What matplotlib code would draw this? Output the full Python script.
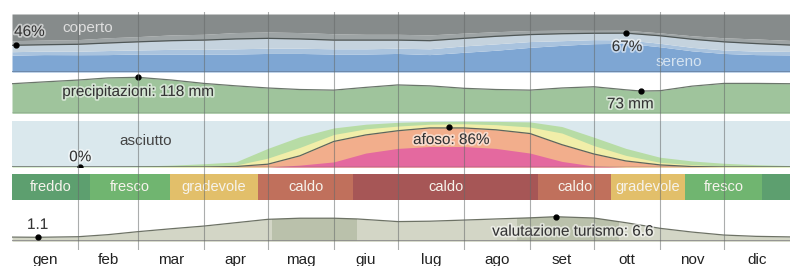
import matplotlib
matplotlib.use("Agg")
import matplotlib.pyplot as plt
import matplotlib.patheffects as pe

plt.rcParams['font.family'] = ['Liberation Sans', 'DejaVu Sans']

# mesi e confini (giorno dell'anno)
mesi = ['gen', 'feb', 'mar', 'apr', 'mag', 'giu', 'lug', 'ago', 'set', 'ott', 'nov', 'dic']
confini_mesi = [0, 31, 59, 90, 120, 151, 181, 212, 243, 273, 304, 334, 365]

giorni = [0, 15, 31, 45, 59, 75, 90, 105, 120, 135, 151, 166, 181, 196, 212, 227,
          243, 258, 273, 288, 304, 319, 334, 349, 365]

# nuvolosita' (%): linea = cielo sereno + prev. sereno + parz. nuvoloso
sereno_linea = [46, 47, 47.8, 50, 52, 54, 55, 57, 58, 57, 55, 55, 55, 54, 58, 61.5,
                64.5, 66, 66.8, 67, 62.5, 56.5, 52, 49, 46.5]
prev_nuvoloso = [8, 8, 8, 9, 9, 10, 10, 11, 11, 11, 11, 10, 10, 10, 9, 8,
                 7, 6, 5, 5, 5, 6, 7, 8, 8]
parz_nuvoloso = [11, 11, 12, 13, 14, 15, 16, 17, 17, 16, 15, 15, 14, 14, 13, 13,
                 12, 12, 11, 11.5, 13, 14, 14, 13, 11]
prev_sereno = [6, 6, 6, 7, 7, 8, 8, 9, 9, 9, 9, 9, 9, 10, 11, 11,
               10, 8, 7, 6, 6, 6, 6, 6, 6]

# precipitazioni (mm)
giorni_pioggia = [0, 15, 31, 45, 59, 75, 90, 105, 120, 135, 151, 166, 181, 196, 212, 227,
                  243, 258, 273, 288, 295, 304, 319, 334, 349, 365]
pioggia = [97, 103, 109, 116, 118, 109, 98, 90, 83, 78, 76, 85, 93, 90, 82, 78,
           76, 83, 87, 77, 73, 74, 89, 98, 98, 97]

# umidita' (%)
afoso = [0, 0, 0, 0, 0, 0, 0, 1, 6, 24, 55, 69, 78, 84, 84, 80,
         72, 48, 28, 13, 4.5, 1, 0, 0, 0]
oppressivo = [0, 0, 0, 0, 0, 0, 0, 0, 0, 4, 11, 30, 40, 44, 44, 40,
              30, 12, 2, 0, 0, 0, 0, 0, 0]
umido = [0, 0, 0, 0, 0, 1, 2, 3, 13, 18, 15, 13, 10, 8, 9, 11,
         14, 25, 18, 12, 5.5, 4, 2, 1, 0.5]
confortevole = [2, 1, 1, 1, 2, 3, 5, 7, 21, 23, 14, 10, 8, 6, 5.5, 7,
                11, 14, 18, 15, 11, 8, 6, 4, 2.5]

# fasce di temperatura
temp_inizio = [0, 36.6, 74, 115.4, 160, 246.8, 281, 315.7, 351.9]
temp_fine = [36.6, 74, 115.4, 160, 246.8, 281, 315.7, 351.9, 365]
temp_nomi = ['freddo', 'fresco', 'gradevole', 'caldo', 'caldo', 'caldo', 'gradevole', 'fresco', '']
temp_colori = ['#5d9f6f', '#70b570', '#e2bf6a', '#c0705c', '#a65656', '#c0705c',
               '#e2bf6a', '#70b570', '#5d9f6f']

# valutazione turismo (0-10)
giorni_turismo = [0, 12, 31, 45, 59, 75, 90, 105, 120, 135, 151, 162, 181, 196, 212, 227,
                  243, 255, 273, 288, 304, 319, 334, 349, 365]
turismo = [1.15, 1.1, 1.25, 1.8, 2.6, 3.4, 4.1, 5.0, 5.9, 6.2, 6.2, 6.0, 5.3, 5.4, 5.7, 6.0,
           6.3, 6.6, 6.25, 5.0, 3.5, 2.5, 1.7, 1.35, 1.2]
periodi_migliori = [(122, 162), (237, 285)]

W, H = 790, 266
fig = plt.figure(figsize=(W / 100, H / 100), dpi=100)
alone = [pe.withStroke(linewidth=2.5, foreground='white', alpha=0.55)]
FS = 11


def pannello(top, bottom, ymax):
    ax = fig.add_axes([12 / W, 1 - bottom / H, 778 / W, (bottom - top) / H])
    ax.set_xlim(0, 365)
    ax.set_ylim(0, ymax)
    for s in ax.spines.values():
        s.set_visible(False)
    ax.set_xticks([])
    ax.set_yticks([])
    ax.patch.set_alpha(0)
    return ax


# --- nuvolosita'
ax = pannello(14, 72, 100)
linea_parz = [s - p for s, p in zip(sereno_linea, parz_nuvoloso)]
linea_prev = [l - p for l, p in zip(linea_parz, prev_sereno)]
linea_nuv = [s + p for s, p in zip(sereno_linea, prev_nuvoloso)]
ax.fill_between(giorni, 0, linea_prev, color='#7ea6d3', lw=0)
ax.fill_between(giorni, linea_prev, linea_parz, color='#a9c3de', lw=0)
ax.fill_between(giorni, linea_parz, sereno_linea, color='#c5d3de', lw=0)
ax.fill_between(giorni, sereno_linea, linea_nuv, color='#9ea4a5', lw=0)
ax.fill_between(giorni, linea_nuv, 100, color='#868b8b', lw=0)
ax.plot(giorni, sereno_linea, color='#4f5757', lw=0.9)
ax.axhline(0.8, color='#6a84a3', lw=1.2)
ax.plot([2], [46], 'o', color='black', ms=3.5)
ax.plot([288], [67], 'o', color='black', ms=3.5)
ax.text(1, 69, '46%', fontsize=FS, color='#333333', va='center', ha='left', path_effects=alone)
ax.text(23.5, 75, 'coperto', fontsize=FS, color='#dedede', va='center', ha='left')
ax.text(288.5, 43, '67%', fontsize=FS, color='#333333', va='center', ha='center', path_effects=alone)
ax.text(301.7, 18, 'sereno', fontsize=FS, color='#d5e3f0', va='center', ha='left')

# --- precipitazioni
ax = pannello(73.5, 113.3, 130.5)
ax.fill_between(giorni_pioggia, 0, pioggia, color='#9fc49c', lw=0)
ax.plot(giorni_pioggia, pioggia, color='#6b766b', lw=0.9)
ax.axhline(0.5, color='#6b766b', lw=1)
ax.plot([59], [118], 'o', color='black', ms=3.5)
ax.plot([295], [73], 'o', color='black', ms=3.5)
ax.text(59, 70, 'precipitazioni: 118 mm', fontsize=FS, color='#333333', ha='center', va='center',
        path_effects=alone)
ax.text(290, 29.5, '73 mm', fontsize=FS, color='#333333', ha='center', va='center', path_effects=alone)

# --- umidita'
ax = pannello(120.5, 167, 100)
ax.fill_between([0, 365], 0, 100, color='#dae8ed', lw=0)
top_umido = [a + u for a, u in zip(afoso, umido)]
top_conf = [t + c for t, c in zip(top_umido, confortevole)]
ax.fill_between(giorni, 0, top_conf, color='#b7dca5', lw=0)
ax.fill_between(giorni, 0, top_umido, color='#f1eea9', lw=0)
ax.fill_between(giorni, 0, afoso, color='#f2ae8c', lw=0)
ax.fill_between(giorni, 0, oppressivo, color='#e4699f', lw=0)
ax.plot(giorni, afoso, color='#5e655e', lw=0.9)
ax.axhline(0.5, color='#6b6b6b', lw=1)
ax.plot([32], [0], 'o', color='black', ms=3.5)
ax.plot([205], [86], 'o', color='black', ms=3.5)
ax.text(62.5, 55, 'asciutto', fontsize=FS, color='#444444', ha='center', va='center')
ax.text(32, 21, '0%', fontsize=FS, color='#333333', ha='center', va='center', path_effects=alone)
ax.text(206, 58, 'afoso: 86%', fontsize=FS, color='#333333', ha='center', va='center', path_effects=alone)

# --- temperatura
ax = pannello(174.3, 200, 1)
for a, b, nome, col in zip(temp_inizio, temp_fine, temp_nomi, temp_colori):
    ax.axvspan(a, b, color=col, lw=0)
    ax.text((a + b) / 2, 0.5, nome, fontsize=10.5, color='#f6f3ec', ha='center', va='center')

# --- turismo
ax = pannello(204, 241.4, 10)
area = ax.fill_between(giorni_turismo, 0, turismo, color='#d3d6c6', lw=0)
for a, b in periodi_migliori:
    fascia = ax.axvspan(a, b, color='#bac1ab', lw=0)
    fascia.set_clip_path(area.get_paths()[0], ax.transData)
ax.plot(giorni_turismo, turismo, color='#6d7265', lw=0.9)
ax.axhline(0, color='#8a8a8a', lw=1.2)
ax.plot([12], [1.1], 'o', color='black', ms=3.5)
ax.plot([255], [6.6], 'o', color='black', ms=3.5)
ax.text(12, 4.4, '1.1', fontsize=FS, color='#333333', ha='center', va='center', path_effects=alone)
ax.text(263, 2.6, 'valutazione turismo: 6.6', fontsize=FS, color='#333333', ha='center', va='center',
        path_effects=alone)
centri = [(a + b) / 2 for a, b in zip(confini_mesi[:-1], confini_mesi[1:])]
ax.set_xticks(centri)
ax.set_xticklabels(mesi, fontsize=FS, color='#222222')
ax.tick_params(axis='x', length=0, pad=8)

# --- linee dei mesi su tutti i pannelli
ax = fig.add_axes([12 / W, 1 - 250 / H, 778 / W, 238 / H], zorder=10)
ax.set_xlim(0, 365)
ax.axis('off')
for g in confini_mesi[1:-1]:
    ax.axvline(g, color='#666a6a', lw=0.8, alpha=0.55)

fig.savefig('out.png', dpi=100)
